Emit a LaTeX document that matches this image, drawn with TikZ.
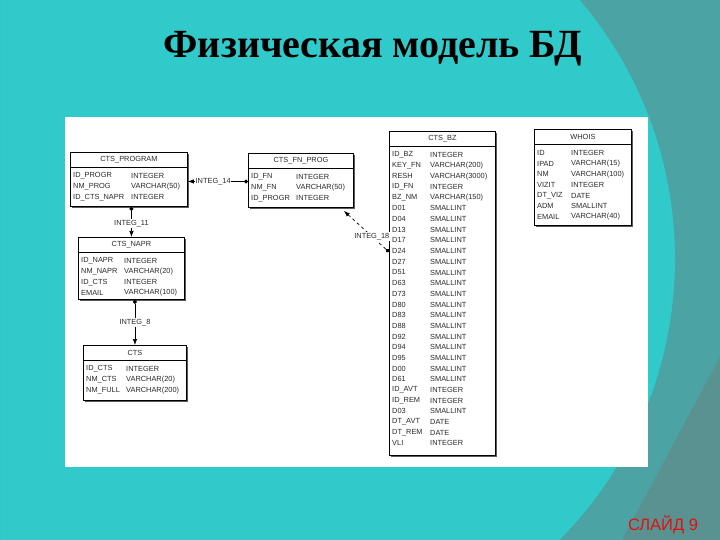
\documentclass[tikz,border=0pt]{standalone}
\usepackage{fontspec}
\setmainfont{Liberation Serif}
\setsansfont{Liberation Sans}
\usetikzlibrary{calc,arrows.meta,shadows}

\definecolor{bgcyan}{HTML}{31CACA}
\definecolor{bgteal}{HTML}{4BA3A3}
\definecolor{bgdark}{HTML}{5A9292}
\definecolor{slidered}{HTML}{E01010}
\definecolor{inkgray}{HTML}{2A2A2A}

\tikzset{
  tbl/.style={draw=black, line width=0.9pt, fill=white, anchor=north west, inner sep=0pt,
    drop shadow={shadow xshift=2pt, shadow yshift=-2pt, fill=black!65, opacity=1}},
  cell/.style={anchor=west, inner sep=0pt, text=inkgray, font=\sffamily\fontsize{7.4}{8}\selectfont},
  hdr/.style={inner sep=0pt, text=inkgray, font=\sffamily\fontsize{7.4}{8}\selectfont},
  sepline/.style={line width=0.5pt, draw=black},
  rel/.style={line width=0.7pt, {Latex[length=6pt,width=4.5pt]}-{Circle[length=4pt]}},
  lbl/.style={fill=white, inner sep=0.8pt, text=inkgray, font=\sffamily\fontsize{7.4}{8}\selectfont}
}

% #1 name, #2 x, #3 y, #4 width, #5 height, #6 column-2 offset, #7 title, #8 rows
\newcommand{\erTable}[8]{%
  \node[tbl, minimum width=#4pt, minimum height=#5pt] (#1) at (#2,#3) {};
  \node[hdr] (#1-title) at ($(#1.north)+(0,8)$) {#7};
  \draw[sepline] ($(#1.north west)+(0,15.5)$) -- ($(#1.north east)+(0,15.5)$);
  \foreach \a/\b [count=\i] in {#8} {
    \node[cell] at ($(#1.north west)+(3,{24+(\i-1)*10.68})$) {\a};
    \node[cell] at ($(#1.north west)+(#6,{24+(\i-1)*10.68})$) {\b};
  }%
}

\begin{document}
\begin{tikzpicture}[x=1pt, y=-1pt]
\useasboundingbox (0,0) rectangle (720,540);
% background
\fill[bgcyan] (0,0) rectangle (720,540);
\fill[bgteal, even odd rule] (0,0) rectangle (720,540) (275,259) circle (400);
\fill[bgdark] (720,357) -- (720,540) -- (622,540) -- cycle;
% white panel
\fill[white] (65,117) rectangle (648,467);

% title
\node[font=\bfseries\fontsize{40}{44}\selectfont, text=black] (title) at (373,49) {Физическая модель БД};
\node[font=\sffamily\fontsize{16.5}{18}\selectfont, text=slidered] (slide) at (663,525) {СЛАЙД 9};

% tables
\erTable{prog}{70}{152}{117}{54}{61}{CTS\_PROGRAM}{ID\_PROGR/INTEGER, NM\_PROG/VARCHAR(50), ID\_CTS\_NAPR/INTEGER}
\erTable{fn}{248}{153}{105}{54}{48}{CTS\_FN\_PROG}{ID\_FN/INTEGER, NM\_FN/VARCHAR(50), ID\_PROGR/INTEGER}
\erTable{napr}{78}{237}{106}{62}{46}{CTS\_NAPR}{ID\_NAPR/INTEGER, NM\_NAPR/VARCHAR(20), ID\_CTS/INTEGER, EMAIL/VARCHAR(100)}
\erTable{cts}{83}{345}{103}{55}{43}{CTS}{ID\_CTS/INTEGER, NM\_CTS/VARCHAR(20), NM\_FULL/VARCHAR(200)}
\erTable{bz}{389}{131}{106}{324}{41}{CTS\_BZ}{ID\_BZ/INTEGER, KEY\_FN/VARCHAR(200), RESH/VARCHAR(3000), ID\_FN/INTEGER, BZ\_NM/VARCHAR(150), D01/SMALLINT, D04/SMALLINT, D13/SMALLINT, D17/SMALLINT, D24/SMALLINT, D27/SMALLINT, D51/SMALLINT, D63/SMALLINT, D73/SMALLINT, D80/SMALLINT, D83/SMALLINT, D88/SMALLINT, D92/SMALLINT, D94/SMALLINT, D95/SMALLINT, D00/SMALLINT, D61/SMALLINT, ID\_AVT/INTEGER, ID\_REM/INTEGER, D03/SMALLINT, DT\_AVT/DATE, DT\_REM/DATE, VLI/INTEGER}
\erTable{whois}{534}{129}{97}{96}{37}{WHOIS}{ID/INTEGER, IPAD/VARCHAR(15), NM/VARCHAR(100), VIZIT/INTEGER, DT\_VIZ/DATE, ADM/SMALLINT, EMAIL/VARCHAR(40)}

% relationships (arrow at parent, dot at child)
\draw[rel] ($(prog.east)+(0,2)$) -- ($(fn.west)+(0,1)$)
  node[lbl, pos=0.42] {INTEG\_14};
\draw[rel] (napr.north) -- (napr.north |- prog.south)
  node[lbl, pos=0.45] {INTEG\_11};
\draw[rel] (cts.north) -- (cts.north |- napr.south)
  node[lbl, pos=0.5] {INTEG\_8};
\draw[rel, dashed] ($(fn.south east)+(-10,3)$) -- ($(bz.north west)+(0,121)$)
  node[lbl, pos=0.62] {INTEG\_18};
\end{tikzpicture}
\end{document}
